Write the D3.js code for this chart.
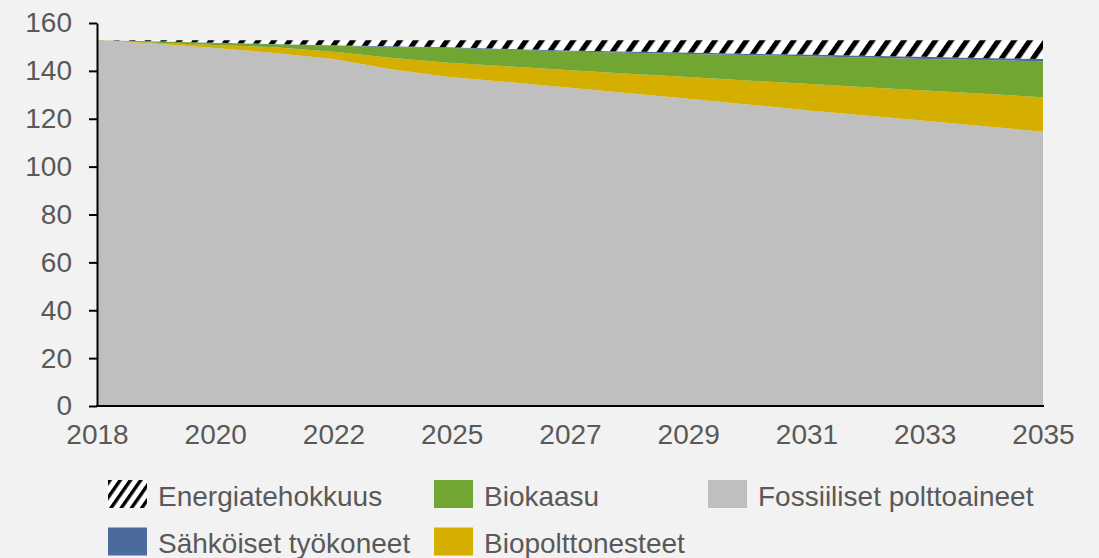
<!DOCTYPE html>
<html>
<head>
<meta charset="utf-8">
<script src="https://cdn.jsdelivr.net/npm/d3@7"></script>
<style>
  html, body { margin: 0; padding: 0; background: #f2f2f2; }
  svg { display: block; }
  text { font-family: "Liberation Sans", Arial, sans-serif; }
</style>
</head>
<body>
<svg id="chart" width="1099" height="558"></svg>
<script>
// Years on the category axis (one year is skipped between 2022 and 2025)
const years = ["2018","2019","2020","2021","2022","2023","2025","2026","2027","2028","2029","2030","2031","2032","2033","2034","2035"];
const yearLabels = ["2018","2020","2022","2025","2027","2029","2031","2033","2035"];
const yTicks = [0, 20, 40, 60, 80, 100, 120, 140, 160];

// Series values, stacked from the bottom up
const fossiiliset = [152.8, 151.3, 149.6, 147.5, 145.0, 140.6, 137.3, 135.2, 132.9, 130.7, 128.4, 126.0, 123.6, 121.4, 119.2, 116.9, 114.6];
const biopolttonesteet = [0, 0.5, 1.2, 2.4, 3.0, 4.8, 6.0, 6.6, 7.4, 8.1, 9.0, 10.0, 11.0, 11.8, 12.6, 13.5, 14.4];
const biokaasu = [0, 0.5, 0.9, 1.2, 2.5, 4.6, 6.3, 7.0, 7.8, 8.8, 9.7, 10.6, 11.5, 12.4, 13.2, 14.1, 15.0];
const sahkoiset = [0, 0.05, 0.1, 0.15, 0.2, 0.25, 0.3, 0.35, 0.4, 0.5, 0.55, 0.6, 0.7, 0.75, 0.85, 0.9, 1.0];
const energiatehokkuus = [0, 0.45, 1.0, 1.55, 2.1, 2.55, 2.9, 3.65, 4.3, 4.7, 5.15, 5.6, 6.0, 6.45, 6.95, 7.4, 7.8];

const seriesKeys = ["fossiiliset", "biopolttonesteet", "biokaasu", "sahkoiset", "energiatehokkuus"];
const seriesValues = { fossiiliset, biopolttonesteet, biokaasu, sahkoiset, energiatehokkuus };
const fills = {
  fossiiliset: "#bfbfbf",
  biopolttonesteet: "#d4af00",
  biokaasu: "#72a633",
  sahkoiset: "#4a6b9b",
  energiatehokkuus: "url(#hatch)"
};

const rows = years.map((yr, i) => {
  const r = { year: yr };
  seriesKeys.forEach(k => r[k] = seriesValues[k][i]);
  return r;
});

const svg = d3.select("#chart");
const defs = svg.append("defs");

function hatchPattern(id, period, stripe) {
  const p = defs.append("pattern")
    .attr("id", id)
    .attr("patternUnits", "userSpaceOnUse")
    .attr("width", period)
    .attr("height", period)
    .attr("patternTransform", "rotate(35)");
  p.append("rect").attr("width", period).attr("height", period).attr("fill", "#ffffff");
  p.append("rect").attr("width", stripe).attr("height", period).attr("fill", "#000000");
}
hatchPattern("hatch", 12.9, 5.2);
hatchPattern("hatchLegend", 8.4, 3.4);

const x = d3.scalePoint().domain(years).range([97, 1043]);
const y = d3.scaleLinear().domain([0, 160]).range([406, 23]);

const stacked = d3.stack().keys(seriesKeys)(rows);
const area = d3.area()
  .x(d => x(d.data.year))
  .y0(d => y(d[0]))
  .y1(d => y(d[1]));

svg.append("g").selectAll("path")
  .data(stacked)
  .join("path")
  .attr("d", area)
  .attr("fill", d => fills[d.key]);

// Y axis
const yAxis = svg.append("g")
  .attr("transform", "translate(97,0)")
  .call(d3.axisLeft(y).tickValues(yTicks).tickSize(8).tickSizeOuter(0).tickPadding(17));
yAxis.select(".domain").attr("stroke", "#000").attr("stroke-width", 2);
yAxis.selectAll(".tick line").attr("stroke", "#000").attr("stroke-width", 2);
yAxis.selectAll(".tick text")
  .attr("font-size", 28)
  .attr("font-family", "Liberation Sans, Arial, sans-serif")
  .attr("fill", "#595959");

// X axis
const xAxis = svg.append("g")
  .attr("transform", "translate(0,406)")
  .call(d3.axisBottom(x).tickValues(yearLabels).tickSize(0).tickSizeOuter(0).tickPadding(18.6));
xAxis.select(".domain").attr("stroke", "#000").attr("stroke-width", 2)
  .attr("d", "M96,0H1044");
xAxis.selectAll(".tick text")
  .attr("font-size", 28)
  .attr("font-family", "Liberation Sans, Arial, sans-serif")
  .attr("fill", "#595959");

// Legend
const legendItems = [
  { label: "Energiatehokkuus", fill: "url(#hatchLegend)", x: 108, y: 480 },
  { label: "Biokaasu", fill: fills.biokaasu, x: 434, y: 480 },
  { label: "Fossiiliset polttoaineet", fill: fills.fossiiliset, x: 708, y: 480 },
  { label: "Sähköiset työkoneet", fill: fills.sahkoiset, x: 108, y: 527.5 },
  { label: "Biopolttonesteet", fill: fills.biopolttonesteet, x: 434, y: 527.5 }
];
const lg = svg.append("g").selectAll("g")
  .data(legendItems)
  .join("g")
  .attr("transform", d => `translate(${d.x},${d.y})`);
lg.append("rect")
  .attr("width", 39)
  .attr("height", 28)
  .attr("fill", d => d.fill);
lg.append("text")
  .attr("x", 50)
  .attr("y", 25.5)
  .attr("font-size", 28)
  .attr("fill", "#595959")
  .text(d => d.label);
</script>
</body>
</html>
